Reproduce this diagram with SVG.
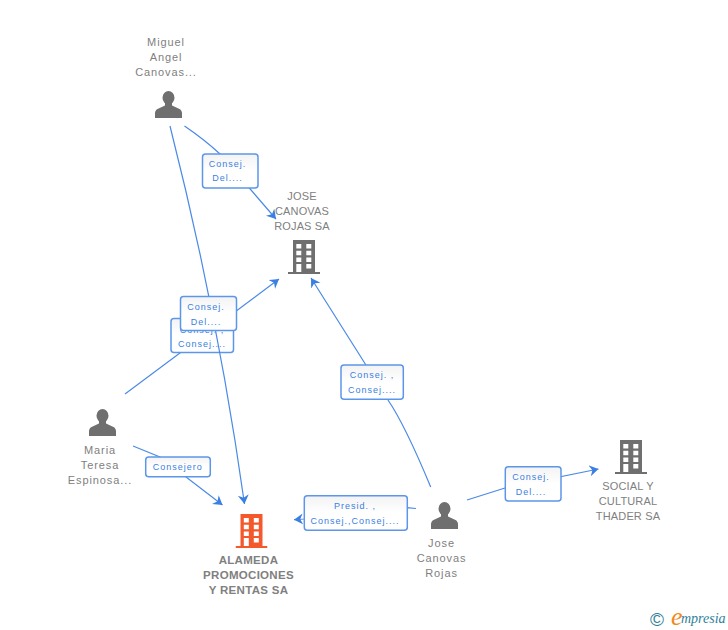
<svg xmlns="http://www.w3.org/2000/svg" width="728" height="630" viewBox="0 0 728 630">
<style>
.e{fill:none;stroke:#4a8ae6;stroke-width:1.2;marker-end:url(#a)}
.b{fill:url(#g);stroke:#5c96ea;stroke-width:1.5}
.l{font:9px "Liberation Sans",Arial,sans-serif;letter-spacing:1px;fill:#3b7fe0;text-anchor:middle}
.n{font:11px "Liberation Sans",Arial,sans-serif;letter-spacing:.9px;fill:#808080;text-anchor:middle}
.u{letter-spacing:.15px}
.m{font:bold 11.5px "Liberation Sans",Arial,sans-serif;letter-spacing:.3px;fill:#808080;text-anchor:middle}
</style>
<defs>
<linearGradient id="g" x1="0" y1="0" x2="0" y2="1"><stop offset="0" stop-color="#f3f3f3"/><stop offset=".5" stop-color="#fff"/></linearGradient>
<marker id="a" markerUnits="userSpaceOnUse" markerWidth="13" markerHeight="13" refX="9" refY="5.500" orient="auto"><path d="M0 0L9 5.500L0 11L2.800 5.500Z" fill="#3b7fe0"/></marker>
<symbol id="person" viewBox="0 0 27 27" overflow="visible"><ellipse cx="13.500" cy="6.800" rx="6" ry="6.800"/><path d="M10 11h7v3.500l7.500 3.500c1.800 1 2.500 2.500 2.500 4.500v4.500H0v-4.500c0-2 .7-3.500 2.500-4.500l7.500-3.500Z"/></symbol>
<symbol id="building" viewBox="0 0 32 34"><path d="M5 0h22v32h5v2H0v-2h5ZM8.300 4v4.500h5V4Zm10 0v4.500h5V4Zm-10 6.700v4.500h5v-4.500Zm10 0v4.500h5v-4.500Zm-10 6.700v4.500h5v-4.500Zm10 0v4.500h5v-4.500Zm-10 6.700V32h5v-7.900Zm10 0v4.500h5v-4.500Z" fill-rule="evenodd"/></symbol>
</defs>
<rect width="728" height="630" fill="#fff"/>
<g id="connectors">
<path class="e" d="M125 394L279 279"/>
<g><rect class="b" x="171" y="318.500" width="62.500" height="34" rx="3"/><text class="l" x="202" y="333">Consej. ,</text><text class="l" x="202" y="347">Consej....</text></g>
<path class="e" d="M170 126Q218 315 244.500 504"/>
<g><rect class="b" x="180.500" y="296.500" width="56" height="34" rx="3"/><text class="l" x="206" y="310">Consej.</text><text class="l" x="206" y="325">Del....</text></g>
<path class="e" d="M184.500 126Q205 140 220 154L276 219"/>
<g><rect class="b" x="202.500" y="154" width="55.500" height="34" rx="3"/><text class="l" x="227.500" y="167">Consej.</text><text class="l" x="227.500" y="181">Del....</text></g>
<path class="e" d="M133 446L160 457L222.500 505"/>
<g><rect class="b" x="145.700" y="457" width="64.600" height="19.700" rx="3"/><text class="l" x="177.700" y="470">Consejero</text></g>
<path class="e" d="M430.700 487Q405 425 388 400L311 278"/>
<g><rect class="b" x="341" y="365" width="62.300" height="34.300" rx="3"/><text class="l" x="372" y="378">Consej. ,</text><text class="l" x="372" y="393">Consej....</text></g>
<path class="e" d="M416 508.500L407 507.700L304 519L294 519.700"/>
<g><rect class="b" x="304.300" y="495.700" width="103" height="34.600" rx="3"/><text class="l" x="355" y="509">Presid. ,</text><text class="l" x="355" y="524">Consej.,Consej....</text></g>
<path class="e" d="M467 500L505 488L598.500 469"/>
<g><rect class="b" x="505.300" y="466.700" width="55.700" height="34.300" rx="3"/><text class="l" x="531" y="480">Consej.</text><text class="l" x="531" y="495">Del....</text></g>
</g>
<g id="miguel" fill="#6f6f6f"><use href="#person" x="155" y="91" width="27" height="27"/><text class="n" x="166" y="46">Miguel</text><text class="n" x="166" y="61">Angel</text><text class="n" x="166" y="76">Canovas...</text></g>
<g id="jose-sa" fill="#6f6f6f"><use href="#building" x="288" y="240" width="32" height="34"/><text class="n u" x="302" y="200">JOSE</text><text class="n u" x="302" y="215">CANOVAS</text><text class="n u" x="302" y="230">ROJAS SA</text></g>
<g id="maria" fill="#6f6f6f"><use href="#person" x="89" y="409" width="27" height="27"/><text class="n" x="100" y="454">Maria</text><text class="n" x="100" y="469">Teresa</text><text class="n" x="100" y="484">Espinosa...</text></g>
<g id="alameda" fill="#f4592c"><use href="#building" x="235.500" y="514" width="32" height="34"/><text class="m" x="248.500" y="564">ALAMEDA</text><text class="m" x="248.500" y="579">PROMOCIONES</text><text class="m" x="248.500" y="594">Y RENTAS SA</text></g>
<g id="jose" fill="#6f6f6f"><use href="#person" x="431" y="502" width="27" height="27"/><text class="n" x="441.500" y="547">Jose</text><text class="n" x="441.500" y="562">Canovas</text><text class="n" x="441.500" y="577">Rojas</text></g>
<g id="social" fill="#6f6f6f"><use href="#building" x="615" y="440" width="32" height="34"/><text class="n u" x="628" y="490">SOCIAL Y</text><text class="n u" x="628" y="505">CULTURAL</text><text class="n u" x="628" y="520">THADER SA</text></g>
<g id="logo"><text x="650" y="626" font-family="'Liberation Sans',sans-serif" font-size="19" fill="#2f7f9a">©</text><text x="671" y="625" font-family="'Liberation Serif',serif" font-style="italic" font-size="26" fill="#f08a1d">e</text><text x="681" y="623" font-family="'Liberation Serif',serif" font-style="italic" font-size="14" fill="#2f7f9a">mpresia</text></g>
</svg>
